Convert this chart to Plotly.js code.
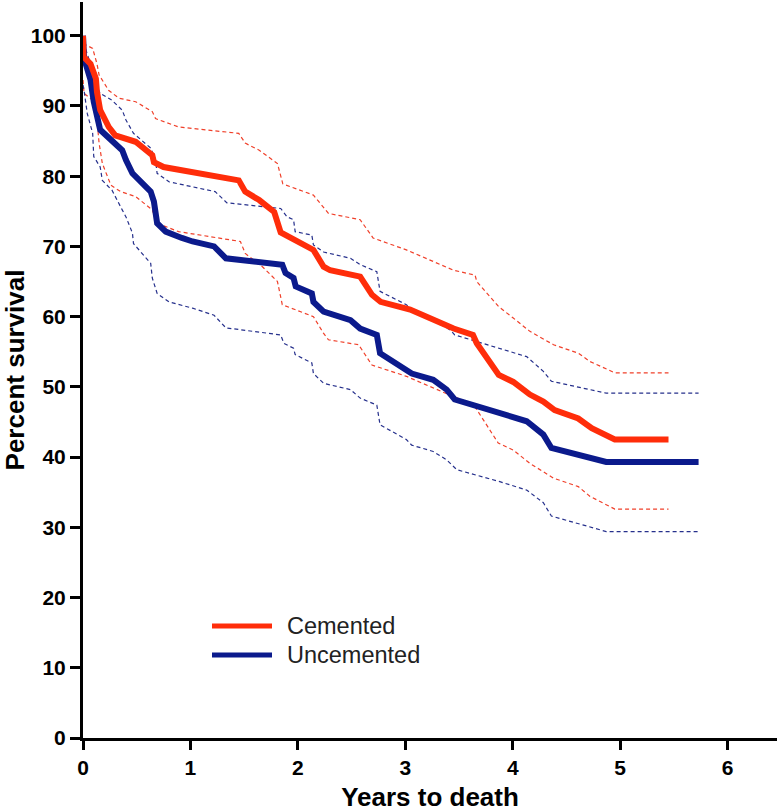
<!DOCTYPE html>
<html>
<head>
<meta charset="utf-8">
<script src="https://cdn.plot.ly/plotly-3.0.1.min.js"></script>
<style>html,body{margin:0;padding:0;background:#fff;}#chart{width:780px;height:812px;}</style>
</head>
<body>
<div id="chart"></div>
<script>
// Cemented: survival estimate and 95% CI
const cemT = [0, 0.005, 0.07, 0.12, 0.13, 0.16, 0.24, 0.30, 0.49, 0.645, 0.66, 0.75, 1.45, 1.51, 1.64, 1.78, 1.84, 2.145, 2.24, 2.30, 2.58, 2.69, 2.77, 3.045, 3.45, 3.63, 3.665, 3.85, 3.87, 4.005, 4.16, 4.285, 4.39, 4.61, 4.735, 4.95, 5.45];
const cemS = [100, 97, 96, 93.9, 92, 89.4, 87, 85.8, 84.9, 83, 82, 81.3, 79.4, 77.8, 76.6, 74.9, 72.0, 69.5, 67.1, 66.6, 65.7, 63.1, 62.1, 61, 58.3, 57.4, 56.2, 52.4, 51.7, 50.7, 48.9, 47.9, 46.7, 45.5, 44.1, 42.5, 42.5];

const cemUpT = [0, 0.09, 0.13, 0.15, 0.24, 0.335, 0.49, 0.645, 0.675, 0.89, 1.45, 1.51, 1.64, 1.81, 1.86, 2.145, 2.285, 2.58, 2.70, 3.01, 3.45, 3.65, 3.665, 3.87, 4.005, 4.16, 4.38, 4.61, 4.72, 4.95, 5.45];
const cemUpV = [98.9, 98.2, 96, 94.4, 92.2, 91.1, 90.6, 89.2, 88.2, 87, 86.1, 84.7, 83.7, 81.8, 78.9, 77.3, 74.7, 73.8, 71.2, 69.5, 66.6, 65.9, 65, 61.4, 59.8, 57.9, 56, 54.8, 53.6, 52, 52];

const cemLoT = [0, 0.01, 0.09, 0.13, 0.15, 0.18, 0.26, 0.35, 0.49, 0.645, 0.69, 0.89, 1.465, 1.51, 1.67, 1.81, 1.855, 2.145, 2.24, 2.285, 2.565, 2.69, 3.01, 3.45, 3.63, 3.865, 4.005, 4.16, 4.38, 4.61, 4.72, 4.95, 5.45];
const cemLoV = [93.7, 91.8, 90.8, 88, 84.7, 81.8, 78.7, 77.8, 77.1, 75.2, 73.3, 72.1, 70.7, 69, 67.1, 65, 61.7, 60, 57.6, 56.7, 56, 53.1, 51.5, 48.6, 47.6, 42, 41, 39.1, 37, 35.8, 34.4, 32.6, 32.6];

// Uncemented: survival estimate and 95% CI
const uncT = [0, 0.01, 0.07, 0.10, 0.16, 0.26, 0.365, 0.40, 0.46, 0.63, 0.66, 0.69, 0.77, 0.92, 1.02, 1.22, 1.33, 1.855, 1.885, 1.96, 1.98, 2.13, 2.145, 2.24, 2.49, 2.58, 2.735, 2.765, 3.01, 3.06, 3.26, 3.385, 3.46, 3.88, 4.13, 4.285, 4.36, 4.87, 5.73];
const uncS = [100, 96.8, 93.7, 90.6, 86.6, 85.1, 83.7, 82.3, 80.4, 77.8, 76.4, 73.3, 72.1, 71.2, 70.7, 70, 68.3, 67.4, 66.2, 65.5, 64.3, 63.3, 62.1, 60.7, 59.5, 58.3, 57.4, 54.8, 52.4, 51.9, 51, 49.6, 48.2, 46.3, 45.1, 43.2, 41.3, 39.3, 39.3];

const uncUpT = [0, 0.02, 0.07, 0.10, 0.16, 0.27, 0.365, 0.40, 0.47, 0.63, 0.675, 0.69, 0.80, 1.02, 1.23, 1.34, 1.84, 1.90, 1.96, 1.975, 2.13, 2.145, 2.24, 2.49, 2.58, 2.735, 2.765, 3.01, 3.06, 3.26, 3.42, 3.46, 3.88, 4.13, 4.285, 4.36, 4.87, 5.73];
const uncUpV = [99, 98.3, 96, 93.7, 91.8, 90.8, 89.4, 88, 86.1, 84, 82.3, 80.4, 79.2, 78.5, 77.8, 76.2, 75.4, 74.2, 73.8, 72.1, 71.6, 70.2, 69.2, 68.3, 67.4, 66.4, 63.6, 61.7, 61, 59.5, 58.1, 57.4, 55.5, 54.3, 52.2, 50.8, 49.1, 49.1];

const uncLoT = [0, 0.01, 0.04, 0.09, 0.10, 0.16, 0.18, 0.27, 0.365, 0.40, 0.46, 0.47, 0.63, 0.645, 0.69, 0.80, 1.02, 1.22, 1.33, 1.84, 1.87, 1.96, 1.975, 2.13, 2.145, 2.24, 2.49, 2.58, 2.735, 2.765, 3.01, 3.06, 3.26, 3.385, 3.48, 3.88, 4.13, 4.285, 4.36, 4.87, 5.73];
const uncLoV = [93, 92.2, 88.9, 86.1, 82.8, 81.3, 79.4, 78, 75.2, 74.2, 71.9, 70.4, 67.6, 65.5, 63.3, 62.1, 61.2, 60.2, 58.4, 57.4, 56.2, 55.5, 54.6, 53.4, 51.9, 50.5, 49.6, 48.4, 47.4, 44.6, 42.5, 41.7, 40.8, 39.6, 38.2, 36.5, 35.3, 33.5, 31.6, 29.4, 29.4];

const seriesNames = ['Cemented', 'Uncemented'];
const xTicks = [0, 1, 2, 3, 4, 5, 6];
const yTicks = [0, 10, 20, 30, 40, 50, 60, 70, 80, 90, 100];

const RED = '#ff2d0a', BLUE = '#0b1a8c';
const RED_D = '#f0402a', BLUE_D = '#26308c';
const FONT = 'Liberation Sans, Arial, Helvetica, sans-serif';

function dashed(x, y, c) {
  return {x: x, y: y, type: 'scatter', mode: 'lines', showlegend: false, hoverinfo: 'skip',
          line: {color: c, width: 1.2, dash: '4px,3px'}};
}

const traces = [
  dashed(cemUpT, cemUpV, RED_D),
  dashed(cemLoT, cemLoV, RED_D),
  dashed(uncUpT, uncUpV, BLUE_D),
  dashed(uncLoT, uncLoV, BLUE_D),
  {x: uncT, y: uncS, type: 'scatter', mode: 'lines', name: seriesNames[1], showlegend: false,
   line: {color: BLUE, width: 6}},
  {x: cemT, y: cemS, type: 'scatter', mode: 'lines', name: seriesNames[0], showlegend: false,
   line: {color: RED, width: 6}}
];

const L = 83, R = 3, T = 2, B = 74, W = 780, H = 812;
const pw = W - L - R, ph = H - T - B;
const px = v => (v - L) / pw;
const py = v => (H - B - v) / ph;

const layout = {
  width: W, height: H,
  margin: {l: L, r: R, t: T, b: B, pad: 0},
  paper_bgcolor: '#fff', plot_bgcolor: '#fff',
  font: {family: FONT, color: '#000'},
  showlegend: false,
  xaxis: {
    range: [0, 6.46], tickvals: xTicks, ticktext: xTicks.map(String),
    showline: true, linecolor: '#000', linewidth: 3,
    ticks: 'outside', ticklen: 9, tickwidth: 3, tickcolor: '#000',
    showgrid: false, zeroline: false,
    tickfont: {family: FONT, size: 21, weight: 'bold', color: '#000'},
    title: {text: 'Years to death', font: {family: FONT, size: 26, weight: 'bold', color: '#000'}, standoff: 14}
  },
  yaxis: {
    range: [0, 104.8], tickvals: yTicks, ticktext: yTicks.map(String),
    showline: true, linecolor: '#000', linewidth: 3,
    ticks: 'outside', ticklen: 10, tickwidth: 3, tickcolor: '#000',
    showgrid: false, zeroline: false,
    tickfont: {family: FONT, size: 21, weight: 'bold', color: '#000'},
    title: {text: 'Percent survival', font: {family: FONT, size: 26, weight: 'bold', color: '#000'}, standoff: 3}
  },
  shapes: [
    {type: 'line', xref: 'paper', yref: 'paper', x0: px(212), x1: px(272), y0: py(626), y1: py(626),
     line: {color: RED, width: 5}},
    {type: 'line', xref: 'paper', yref: 'paper', x0: px(212), x1: px(272), y0: py(655), y1: py(655),
     line: {color: BLUE, width: 5}}
  ],
  annotations: [
    {xref: 'paper', yref: 'paper', x: px(285), y: py(626), xanchor: 'left', yanchor: 'middle',
     text: seriesNames[0], showarrow: false, font: {family: FONT, size: 23.5, color: '#222'}},
    {xref: 'paper', yref: 'paper', x: px(285), y: py(655), xanchor: 'left', yanchor: 'middle',
     text: seriesNames[1], showarrow: false, font: {family: FONT, size: 23.5, color: '#222'}}
  ]
};

Plotly.newPlot('chart', traces, layout, {displayModeBar: false, staticPlot: true});
</script>
</body>
</html>
